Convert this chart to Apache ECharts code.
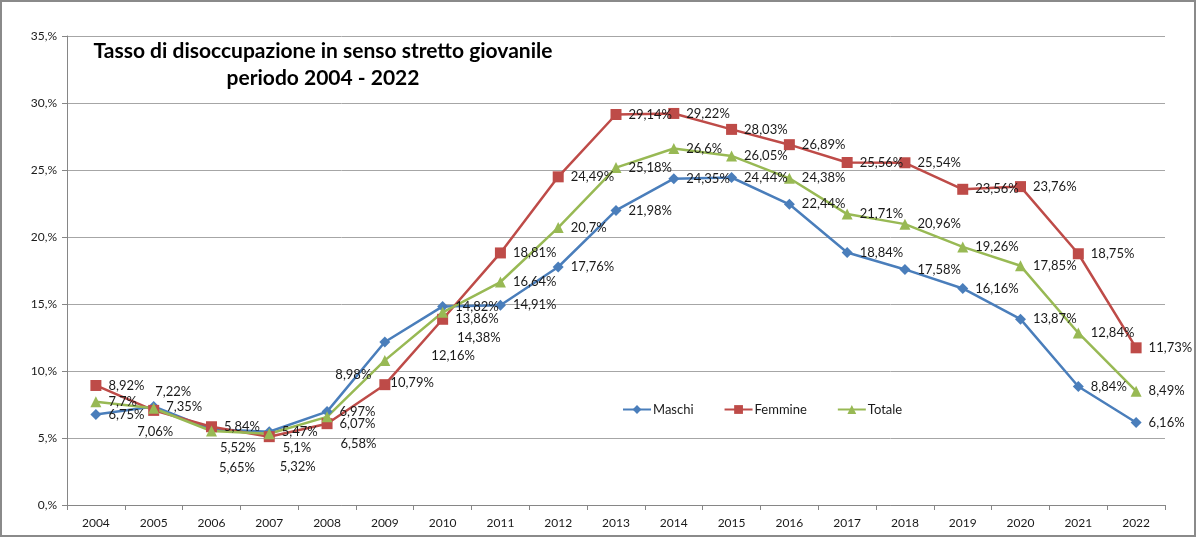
<!DOCTYPE html>
<html>
<head>
<meta charset="utf-8">
<script src="https://cdn.jsdelivr.net/npm/echarts@6/dist/echarts.min.js"></script>
<style>
html,body{margin:0;padding:0;background:#fff;}
#chart{width:1197px;height:538px;}
</style>
</head>
<body>
<div id="chart"></div>
<script>
// ---- data ----
const years = ['2004','2005','2006','2007','2008','2009','2010','2011','2012','2013','2014','2015','2016','2017','2018','2019','2020','2021','2022'];
const maschi  = [6.75, 7.35, 5.65, 5.47, 6.97, 12.16, 14.82, 14.91, 17.76, 21.98, 24.35, 24.44, 22.44, 18.84, 17.58, 16.16, 13.87, 8.84, 6.16];
const femmine = [8.92, 7.06, 5.84, 5.10, 6.07, 8.98, 13.86, 18.81, 24.49, 29.14, 29.22, 28.03, 26.89, 25.56, 25.54, 23.56, 23.76, 18.75, 11.73];
const totale  = [7.70, 7.22, 5.52, 5.32, 6.58, 10.79, 14.38, 16.64, 20.70, 25.18, 26.60, 26.05, 24.38, 21.71, 20.96, 19.26, 17.85, 12.84, 8.49];
const yTicks = [0, 5, 10, 15, 20, 25, 30, 35];

// ---- label layout tweaks (pixel offsets from default 'right' position) ----
const labelOffsets = {
  Maschi:  {2: [-5, 39], 5: [34, 14]},
  Femmine: {1: [-29, 21], 3: [1, 11], 5: [-62, -10]},
  Totale:  {1: [-11, -16], 2: [-4, 17], 3: [-2, 33], 4: [1, 27], 5: [-7, 22], 6: [2, 26]}
};

const FONT = 'Lato';
const fmt = v => String(v).replace('.', ',') + '%';

function buildData(name, values) {
  const offs = labelOffsets[name] || {};
  return values.map((v, i) => {
    const o = offs[i];
    if (!o) return v;
    return { value: v, label: { offset: o } };
  });
}

function mkSeries(name, values, color, symbol, size) {
  return {
    name: name,
    type: 'line',
    data: buildData(name, values),
    symbol: symbol,
    symbolSize: size,
    lineStyle: { color: color, width: 2.5 },
    itemStyle: { color: color },
    label: {
      show: true,
      position: 'right',
      distance: 7,
      fontFamily: FONT,
      fontSize: 13,
      color: '#1a1a1a',
      formatter: p => fmt(p.value)
    },
    emphasis: { disabled: true },
    animation: false
  };
}

const chart = echarts.init(document.getElementById('chart'), null, { renderer: 'canvas' });
chart.setOption({
  backgroundColor: '#fff',
  animation: false,
  textStyle: { fontFamily: FONT },
  title: {
    text: 'Tasso di disoccupazione in senso stretto giovanile\nperiodo 2004 - 2022',
    left: 318,
    top: 33,
    textAlign: 'center',
    textStyle: { fontFamily: FONT, fontWeight: 'bold', fontSize: 21, color: '#000', lineHeight: 27 }
  },
  legend: {
    left: 617,
    top: 398,
    itemWidth: 28,
    itemHeight: 11,
    itemGap: 30,
    textStyle: { fontFamily: FONT, fontSize: 13, color: '#1a1a1a', padding: [0, 0, 0, -3] },
    data: ['Maschi', 'Femmine', 'Totale']
  },
  grid: { left: 67, right: 32, top: 36, bottom: 33, containLabel: false },
  xAxis: {
    type: 'category',
    data: years,
    boundaryGap: true,
    axisLine: { lineStyle: { color: '#868686', width: 1 } },
    axisTick: { show: true, length: 5, lineStyle: { color: '#868686' } },
    axisLabel: { fontFamily: FONT, fontSize: 12, color: '#1a1a1a', margin: 12 }
  },
  yAxis: {
    type: 'value',
    min: yTicks[0],
    max: yTicks[yTicks.length - 1],
    interval: 5,
    axisLine: { show: true, lineStyle: { color: '#868686', width: 1 } },
    axisTick: { show: true, length: 5, lineStyle: { color: '#868686' } },
    axisLabel: { fontFamily: FONT, fontSize: 12, color: '#1a1a1a', margin: 10, formatter: v => v + ',%' },
    splitLine: { show: true, lineStyle: { color: '#a6a6a6', width: 1 } }
  },
  graphic: [{
    type: 'rect',
    shape: { x: 1, y: 1, width: 1194, height: 535 },
    style: { fill: 'none', stroke: '#8a8a8a', lineWidth: 2 },
    silent: true,
    z: 100
  }],
  series: [
    mkSeries('Maschi', maschi, '#4A7EBB', 'diamond', 11),
    mkSeries('Femmine', femmine, '#BE4B48', 'rect', 11),
    mkSeries('Totale', totale, '#98B954', 'triangle', 11)
  ]
});
</script>
</body>
</html>
